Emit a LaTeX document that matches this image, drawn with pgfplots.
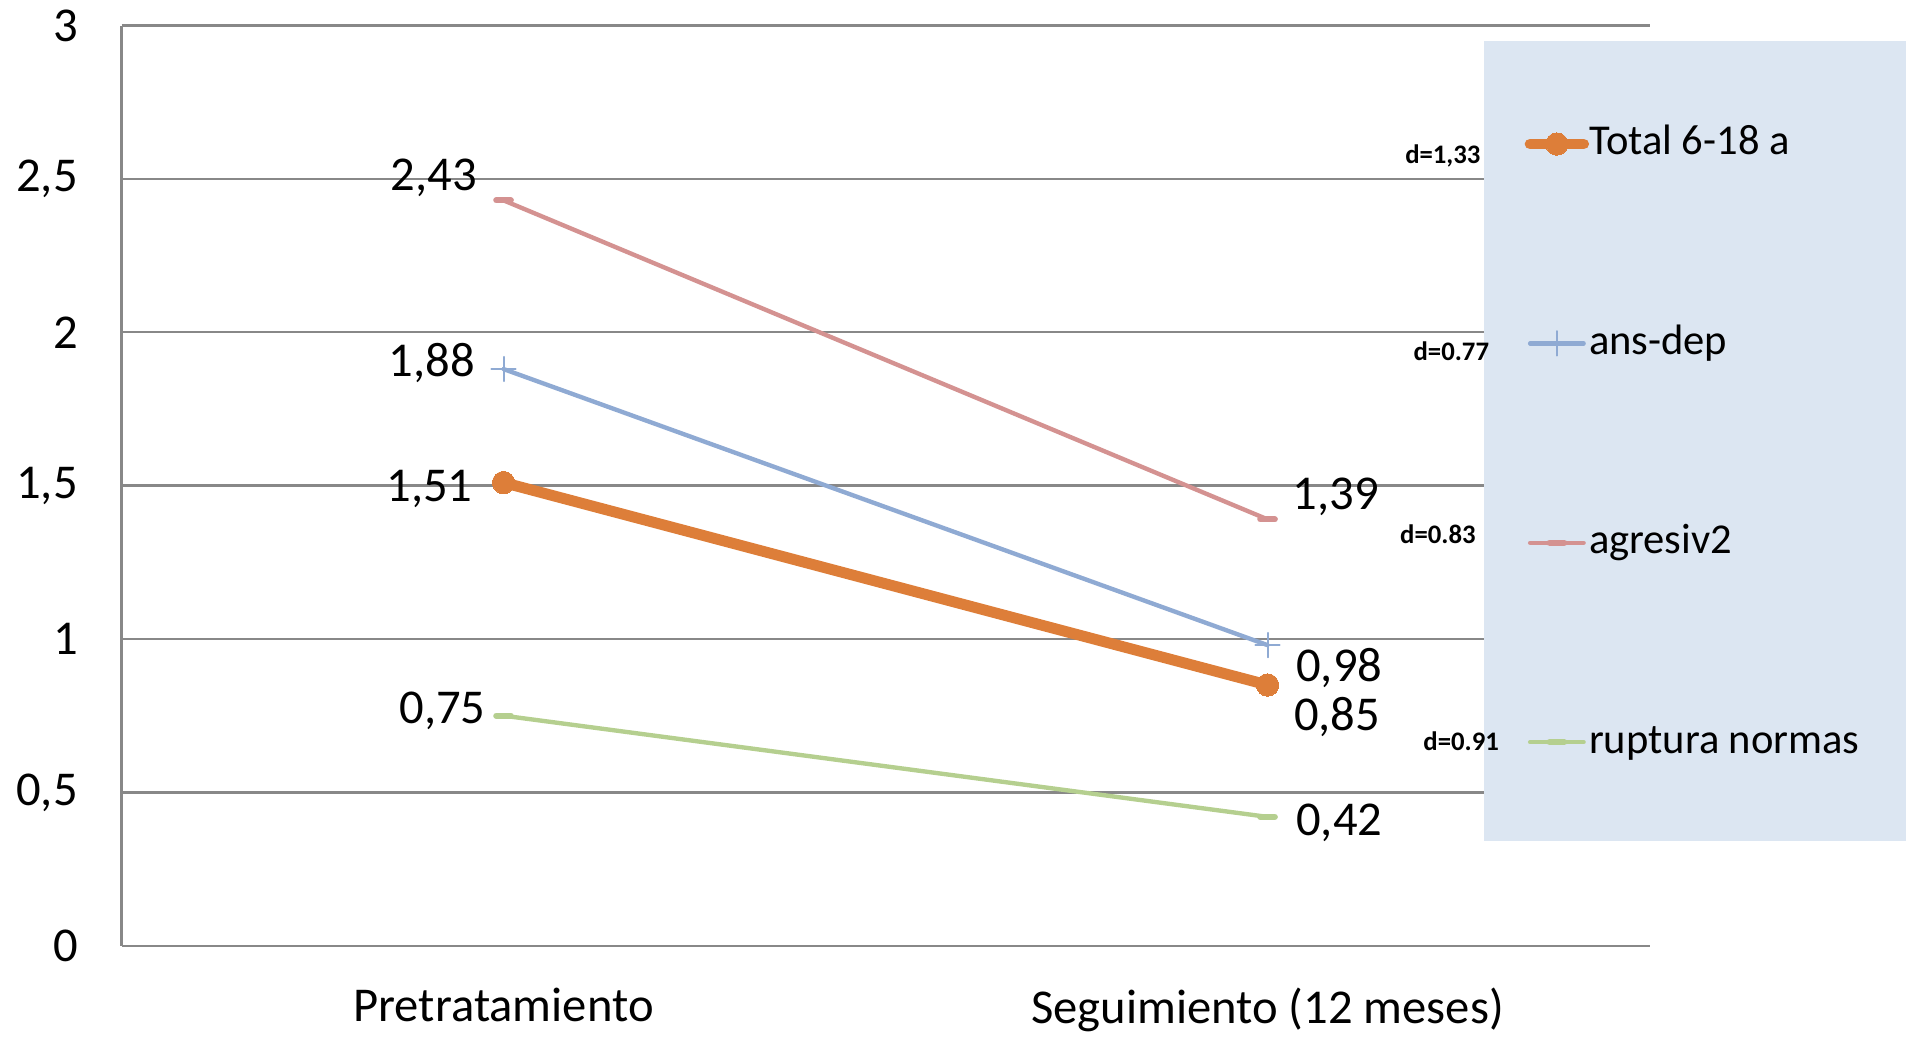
\documentclass[border=0pt]{standalone}
\usepackage{pgfplots}
\pgfplotsset{compat=1.18}
\usepackage{fontspec}
\setmainfont{Carlito}

\definecolor{cTotal}{RGB}{221,126,57}
\definecolor{cAns}{RGB}{143,170,211}
\definecolor{cAgr}{RGB}{212,146,145}
\definecolor{cRup}{RGB}{181,207,143}
\definecolor{legfill}{RGB}{220,230,242}
\definecolor{gridgray}{RGB}{136,136,136}

\begin{document}
\begin{tikzpicture}
  % picture frame: 784pt x 426.5pt, axis box lower-left at (50pt,37.5pt)
  \useasboundingbox (-50pt,-37.5pt) rectangle (734pt,389pt);
  \begin{axis}[
      scale only axis,
      width=628.5pt, height=378.5pt,
      xmin=-0.5, xmax=1.5,
      ymin=0, ymax=3,
      xtick={0,1},
      xticklabels={Pretratamiento, Seguimiento (12 meses)},
      ytick={0,0.5,1,1.5,2,2.5,3},
      major tick length=0pt,
      axis x line=bottom, axis y line=left,
      axis line style={gridgray, line width=1pt, -},
      ymajorgrids=true,
      grid style={gridgray, line width=1pt},
      /pgf/number format/.cd, use comma, fixed, assume math mode=true,
      /pgfplots/.cd,
      tick label style={font=\fontsize{20}{24}\selectfont},
      yticklabel style={xshift=-14.5pt},
      xticklabel style={yshift=-14pt},
      clip=false,
      legend cell align=left,
      legend image code/.code={
        \draw[mark repeat=2, mark phase=2] plot coordinates {(0pt,0pt) (11pt,0pt) (22pt,0pt)};
      },
      legend style={
        draw=none, fill=none,
        at={(rel axis cs:0.9132,0.8995)}, anchor=north west,
        font=\fontsize{17.5}{21}\selectfont,
        nodes={inner sep=0pt, text height=13pt, text depth=4pt},
        row sep=65pt,
        /tikz/every even column/.append style={column sep=2.5pt},
      },
    ]

    % legend panel
    \fill[legfill] (rel axis cs:0.8918,0.1136) rectangle (rel axis cs:1.1679,0.9828);

    \addplot[cTotal, line width=4.5pt, line cap=round, mark=*, mark size=4.6pt,
      mark options={line width=0pt}] coordinates {(0,1.51) (1,0.85)};
    \addlegendentry{Total 6-18 a}

    \addplot[cAns, line width=1.8pt, line cap=round, mark=+, mark size=5pt,
      mark options={line width=0.8pt}] coordinates {(0,1.88) (1,0.98)};
    \addlegendentry{ans-dep}

    \addplot[cAgr, line width=1.8pt, line cap=round, mark=-, mark size=3pt,
      mark options={line width=2.5pt}] coordinates {(0,2.43) (1,1.39)};
    \addlegendentry{agresiv2}

    \addplot[cRup, line width=1.8pt, line cap=round, mark=-, mark size=3pt,
      mark options={line width=2.5pt}] coordinates {(0,0.75) (1,0.42)};
    \addlegendentry{ruptura normas}

    % data labels
    \begin{scope}[every node/.style={font=\fontsize{20}{24}\selectfont, inner sep=0pt}]
      \node at (axis cs:-0.091,2.502) {2,43};
      \node at (axis cs:-0.094,1.900) {1,88};
      \node at (axis cs:-0.097,1.488) {1,51};
      \node at (axis cs:-0.080,0.767) {0,75};
      \node at (axis cs:1.0895,1.464) {1,39};
      \node at (axis cs:1.094,0.906) {0,98};
      \node at (axis cs:1.091,0.747) {0,85};
      \node at (axis cs:1.094,0.402) {0,42};
    \end{scope}

    % effect sizes
    \begin{scope}[every node/.style={font=\bfseries\fontsize{11}{13}\selectfont, inner sep=0pt}]
      \node at (axis cs:1.2295,2.576) {d=1,33};
      \node at (axis cs:1.2406,1.938) {d=0.77};
      \node at (axis cs:1.2230,1.340) {d=0.83};
      \node at (axis cs:1.2534,0.666) {d=0.91};
    \end{scope}
  \end{axis}
\end{tikzpicture}
\end{document}
